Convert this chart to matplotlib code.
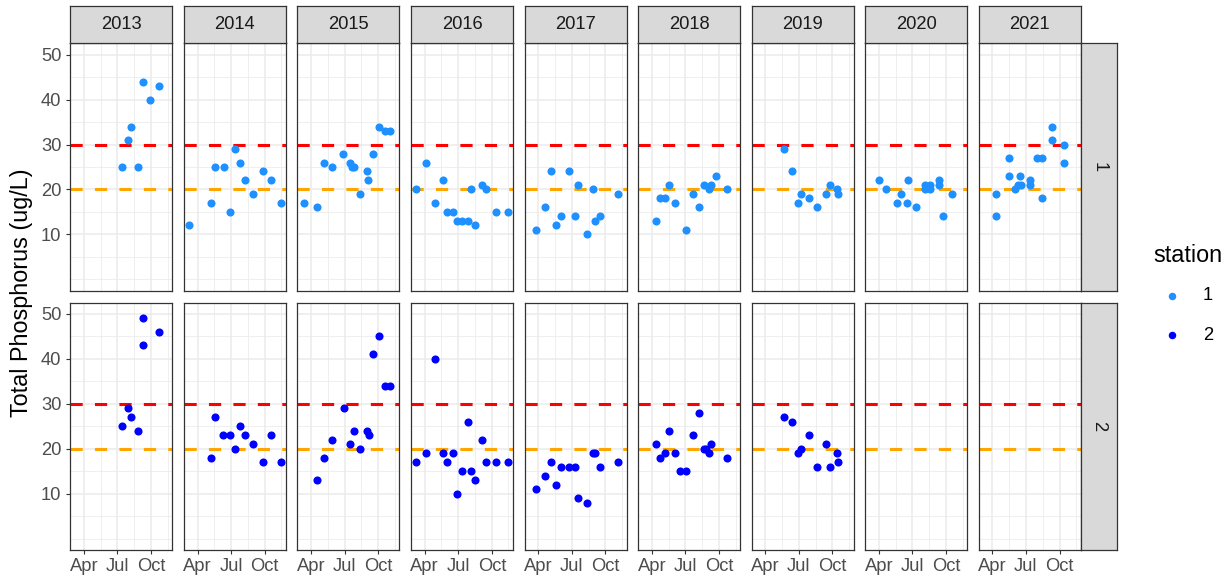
import numpy as np
import pandas as pd
import matplotlib.pyplot as plt
import matplotlib.dates as mdates
from matplotlib.ticker import FixedLocator, MultipleLocator
from matplotlib.lines import Line2D

plt.rcParams["font.family"] = ["Liberation Sans", "DejaVu Sans"]

# ============================================
# DATA
# ============================================

years = list(range(2013, 2022))
station_ids = [1, 2]
station_colors = ["#1E90FF", "#0000FF"]

tp_upper = 30   # red line
tp_lower = 20   # orange line

st1_dates = [
    "2013-07-13", "2013-07-29", "2013-08-08", "2013-08-25", "2013-09-09", "2013-09-29", "2013-10-23",
    "2014-03-09", "2014-05-08", "2014-05-19", "2014-06-11", "2014-06-28", "2014-07-12", "2014-07-25",
    "2014-08-09", "2014-08-31", "2014-09-27", "2014-10-19", "2014-11-15",
    "2015-03-12", "2015-04-16", "2015-05-06", "2015-05-29", "2015-06-28", "2015-07-15", "2015-07-21",
    "2015-07-28", "2015-08-12", "2015-08-31", "2015-09-04", "2015-09-17", "2015-10-04", "2015-10-18",
    "2015-11-03",
    "2016-03-07", "2016-04-05", "2016-04-30", "2016-05-21", "2016-06-01", "2016-06-16", "2016-06-29",
    "2016-07-12", "2016-07-27", "2016-08-06", "2016-08-16", "2016-09-05", "2016-09-16", "2016-10-12",
    "2016-11-13",
    "2017-03-27", "2017-04-20", "2017-05-07", "2017-05-19", "2017-06-03", "2017-06-24", "2017-07-09",
    "2017-07-19", "2017-08-12", "2017-08-27", "2017-09-03", "2017-09-16", "2017-11-04",
    "2018-04-11", "2018-04-24", "2018-05-08", "2018-05-19", "2018-06-03", "2018-07-02", "2018-07-22",
    "2018-08-07", "2018-08-22", "2018-09-03", "2018-09-10", "2018-09-22", "2018-10-23",
    "2019-05-21", "2019-06-12", "2019-06-28", "2019-07-08", "2019-07-30", "2019-08-20", "2019-09-12",
    "2019-09-25", "2019-10-12", "2019-10-16",
    "2020-03-31", "2020-04-20", "2020-05-19", "2020-05-31", "2020-06-17", "2020-06-19", "2020-07-11",
    "2020-08-04", "2020-08-06", "2020-08-17", "2020-08-19", "2020-09-11", "2020-09-11", "2020-09-24",
    "2020-10-17",
    "2021-04-11", "2021-04-11", "2021-05-16", "2021-05-16", "2021-06-01", "2021-06-09", "2021-06-16",
    "2021-06-17", "2021-07-11", "2021-07-13", "2021-08-01", "2021-08-13", "2021-08-13", "2021-09-10",
    "2021-09-11", "2021-10-12", "2021-10-14",
]
st1_tp = [
    25, 31, 34, 25, 44, 40, 43,
    12, 17, 25, 25, 15, 29, 26, 22, 19, 24, 22, 17,
    17, 16, 26, 25, 28, 26, 25, 25, 19, 24, 22, 28, 34, 33, 33,
    20, 26, 17, 22, 15, 15, 13, 13, 13, 20, 12, 21, 20, 15, 15,
    11, 16, 24, 12, 14, 24, 14, 21, 10, 20, 13, 14, 19,
    13, 18, 18, 21, 17, 11, 19, 16, 21, 20, 21, 23, 20,
    29, 24, 17, 19, 18, 16, 19, 21, 20, 19,
    22, 20, 17, 19, 17, 22, 16, 21, 20, 21, 20, 22, 21, 14, 19,
    19, 14, 27, 23, 20, 21, 23, 21, 22, 21, 27, 27, 18, 31, 34, 30, 26,
]

st2_dates = [
    "2013-07-13", "2013-07-29", "2013-08-08", "2013-08-25", "2013-09-09", "2013-09-09", "2013-10-23",
    "2014-05-08", "2014-05-19", "2014-06-09", "2014-06-28", "2014-07-12", "2014-07-25", "2014-08-09",
    "2014-08-31", "2014-09-27", "2014-10-19", "2014-11-15",
    "2015-04-16", "2015-05-06", "2015-05-29", "2015-06-29", "2015-07-15", "2015-07-26", "2015-08-13",
    "2015-08-31", "2015-09-05", "2015-09-16", "2015-10-04", "2015-10-18", "2015-11-03",
    "2016-03-07", "2016-04-05", "2016-04-30", "2016-05-21", "2016-06-01", "2016-06-16", "2016-06-29",
    "2016-07-12", "2016-07-27", "2016-08-06", "2016-08-16", "2016-09-05", "2016-09-16", "2016-10-12",
    "2016-11-13",
    "2017-03-27", "2017-04-20", "2017-05-07", "2017-05-19", "2017-06-03", "2017-06-24", "2017-07-09",
    "2017-07-19", "2017-08-12", "2017-08-27", "2017-09-03", "2017-09-16", "2017-11-04",
    "2018-04-11", "2018-04-24", "2018-05-08", "2018-05-19", "2018-06-03", "2018-06-17", "2018-07-02",
    "2018-07-22", "2018-08-07", "2018-08-20", "2018-08-28", "2018-09-05", "2018-09-10", "2018-10-23",
    "2019-05-21", "2019-06-12", "2019-06-28", "2019-07-08", "2019-07-30", "2019-08-20", "2019-09-12",
    "2019-09-25", "2019-10-12", "2019-10-16",
]
st2_tp = [
    25, 29, 27, 24, 49, 43, 46,
    18, 27, 23, 23, 20, 25, 23, 21, 17, 23, 17,
    13, 18, 22, 29, 21, 24, 20, 24, 23, 41, 45, 34, 34,
    17, 19, 40, 19, 17, 19, 10, 15, 26, 15, 13, 22, 17, 17, 17,
    11, 14, 17, 12, 16, 16, 16, 9, 8, 19, 19, 16, 17,
    21, 18, 19, 24, 19, 15, 15, 23, 28, 20, 20, 19, 21, 18,
    27, 26, 19, 20, 23, 16, 21, 16, 19, 17,
]

# ============================================
# PREP
# ============================================

df = pd.concat([
    pd.DataFrame({"station": 1, "date": pd.to_datetime(st1_dates), "tp": st1_tp}),
    pd.DataFrame({"station": 2, "date": pd.to_datetime(st2_dates), "tp": st2_tp}),
], ignore_index=True)
df["year"] = df["date"].dt.year
# put every sample on a common year so panels share the seasonal axis
df["season"] = pd.to_datetime("2001-" + df["date"].dt.strftime("%m-%d"))
df["x"] = mdates.date2num(df["season"].values)

x_lo, x_hi = df["x"].min(), df["x"].max()
x_pad = 0.05 * (x_hi - x_lo)
y_lo, y_hi = 0, 50
y_pad = 0.05 * (y_hi - y_lo)

major_x = mdates.date2num(pd.to_datetime(["2001-04-01", "2001-07-01", "2001-10-01"]).values)
step = major_x[1] - major_x[0]
ext = np.concatenate([[major_x[0] - step], major_x, [major_x[-1] + step]])
minor_x = (ext[:-1] + ext[1:]) / 2

# ============================================
# LAYOUT (pixels)
# ============================================

W, H = 1231, 583
fig = plt.figure(figsize=(W / 100, H / 100), dpi=100)


def px_axes(left, top, width, height):
    return fig.add_axes([left / W, 1 - (top + height) / H, width / W, height / H])


col_left0 = 70.3
col_pitch = 113.55
panel_w = 102
row_tops = [43.3, 302.7]
panel_h = 247.4
strip_top = 6.0
strip_h = 37.3
rstrip_w = 36.6

small_fs = 13.2
title_fs = 16.8
border = "#333333"
grid_col = "#EBEBEB"

for r, st in enumerate(station_ids):
    for c, yr in enumerate(years):
        left = col_left0 + c * col_pitch
        ax = px_axes(left, row_tops[r], panel_w, panel_h)
        sub = df[(df["station"] == st) & (df["year"] == yr)]

        ax.axhline(tp_upper, color="red", lw=2.2, ls=(0, (4, 4)), zorder=2)
        ax.axhline(tp_lower, color="orange", lw=2.2, ls=(0, (4, 4)), zorder=2)
        ax.scatter(sub["x"], sub["tp"], s=34, color=station_colors[r],
                   linewidths=0, zorder=3)

        ax.set_xlim(x_lo - x_pad, x_hi + x_pad)
        ax.set_ylim(y_lo - y_pad, y_hi + y_pad)

        ax.xaxis.set_major_locator(FixedLocator(major_x))
        ax.xaxis.set_minor_locator(FixedLocator(minor_x))
        ax.xaxis.set_major_formatter(mdates.DateFormatter("%b"))
        ax.yaxis.set_major_locator(FixedLocator([10, 20, 30, 40, 50]))
        ax.yaxis.set_minor_locator(MultipleLocator(5))

        ax.set_axisbelow(True)
        ax.grid(which="major", color=grid_col, lw=1.1)
        ax.grid(which="minor", color=grid_col, lw=0.55)

        for sp in ax.spines.values():
            sp.set_color(border)
            sp.set_linewidth(0.9)

        ax.tick_params(which="minor", length=0)
        ax.tick_params(which="major", length=3.2, width=0.8, color=border,
                       labelsize=small_fs, labelcolor="#4D4D4D")
        ax.tick_params(axis="y", pad=3.2, left=(c == 0), labelleft=(c == 0))
        ax.tick_params(axis="x", pad=2.6, bottom=(r == 1), labelbottom=(r == 1))

        # year strip on top
        if r == 0:
            sax = px_axes(left, strip_top, panel_w, strip_h)
            sax.set_facecolor("#D9D9D9")
            sax.set_xticks([])
            sax.set_yticks([])
            for sp in sax.spines.values():
                sp.set_color(border)
                sp.set_linewidth(0.9)
            sax.text(0.5, 0.5, str(yr), ha="center", va="center",
                     size=small_fs, color="#1A1A1A", transform=sax.transAxes)

    # station strip on the right
    rax = px_axes(col_left0 + 8 * col_pitch + panel_w, row_tops[r], rstrip_w, panel_h)
    rax.set_facecolor("#D9D9D9")
    rax.set_xticks([])
    rax.set_yticks([])
    for sp in rax.spines.values():
        sp.set_color(border)
        sp.set_linewidth(0.9)
    rax.text(0.5, 0.5, str(st), ha="center", va="center", rotation=-90,
             size=small_fs, color="#1A1A1A", transform=rax.transAxes)

fig.text(22 / W, 1 - 293 / H, "Total Phosphorus (ug/L)", rotation=90,
         ha="center", va="center", size=title_fs, color="black")

# legend
fig.text(1153 / W, 1 - 255 / H, "station", ha="left", va="center",
         size=title_fs, color="black")
for i, st in enumerate(station_ids):
    ky = 1 - (296 + i * 39) / H
    fig.add_artist(Line2D([1172 / W], [ky], marker="o", ms=4.4, lw=0,
                          color=station_colors[i], transform=fig.transFigure))
    fig.text(1203 / W, ky, str(st), ha="left", va="center", size=small_fs,
             color="black")

fig.savefig("out.png", dpi=100)
